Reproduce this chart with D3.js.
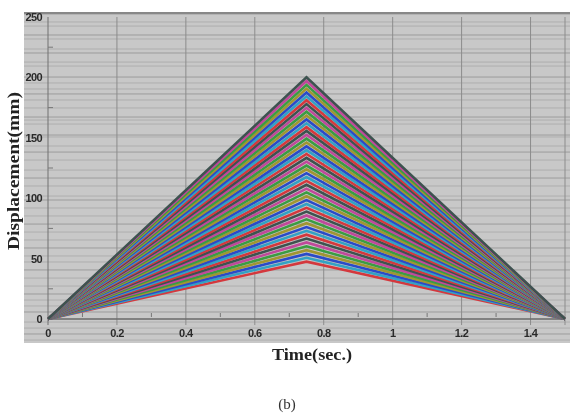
<!DOCTYPE html>
<html>
<head>
<meta charset="utf-8">
<script src="https://cdn.jsdelivr.net/npm/d3@7"></script>
<style>
  body { margin: 0; background: #fff; }
  svg { display: block; }
</style>
</head>
<body>
<div id="chart"></div>
<script>
'use strict';

// time points of every run (s)
const times = [0, 0.75, 1.5];
// peak displacement of each run (mm), lowest to highest
const peaks = [47.5, 50.7, 53.9, 57.0, 60.2, 63.4, 66.6, 69.8, 73.0, 76.1,
  79.3, 82.5, 85.7, 88.9, 92.0, 95.2, 98.4, 101.6, 104.8, 107.9,
  111.1, 114.3, 117.5, 120.7, 123.9, 127.0, 130.2, 133.4, 136.6, 139.8,
  142.9, 146.1, 149.3, 152.5, 155.7, 158.8, 162.0, 165.2, 168.4, 171.6,
  174.8, 177.9, 181.1, 184.3, 187.5, 190.7, 193.8, 197.0, 200.0];
const xTicks = [0, 0.2, 0.4, 0.6, 0.8, 1, 1.2, 1.4];
const xTickLabels = ['0', '0.2', '0.4', '0.6', '0.8', '1', '1.2', '1.4'];
const xMinor = [0.1, 0.3, 0.5, 0.7, 0.9, 1.1, 1.3];
const yTicks = [0, 50, 100, 150, 200, 250];
const yMinor = [25, 75, 125, 175, 225];
// scan streaks across the grey panel, in mm
const streaks = [252.5, 245.9, 242.5, 235.1, 231.8, 223.5, 220.2, 212.7, 209.4, 200.3,
  195.4, 190.4, 186.3, 181.3, 174.7, 167.2, 164.7, 161.4, 152.3, 150.7,
  143.2, 138.2, 131.6, 123.3, 116.7, 110.1, 101.8, 98.5, 91.9, 85.3,
  78.6, 72.0, 65.4, 58.8, 52.2, 47.2, 40.6, 33.9, 27.3, 20.7,
  15.7, 10.8, 5.8, -2.5, -7.5, -12.4, -17.4];
const palette = ['#d4383e', '#33a2c4', '#2c4cc8', '#a09632', '#3a9c42', '#c0489a', '#3e5250'];

const width = 575, height = 418;
const margin = { top: 17, left: 48, right: 10, bottom: 99 };

const svg = d3.select('#chart').append('svg')
  .attr('width', width)
  .attr('height', height);

svg.append('defs').append('filter')
  .attr('id', 'soft')
  .append('feGaussianBlur')
  .attr('stdDeviation', 0.5);

const root = svg.append('g').attr('filter', 'url(#soft)');

const xScale = d3.scaleLinear()
  .domain([0, 1.5])
  .range([margin.left, width - margin.right]);

const yScale = d3.scaleLinear()
  .domain([0, 250])
  .range([height - margin.bottom, margin.top]);

// grey panel
root.append('rect')
  .attr('x', 24).attr('y', 12)
  .attr('width', 546).attr('height', 331)
  .attr('fill', '#c8c8c8');

root.append('g')
  .selectAll('line')
  .data(streaks)
  .join('line')
  .attr('x1', 24).attr('x2', 570)
  .attr('y1', d => yScale(d)).attr('y2', d => yScale(d))
  .attr('stroke', '#8e8e8e')
  .attr('stroke-opacity', (d, i) => i % 3 === 0 ? 0.75 : 0.45)
  .attr('stroke-width', 1);

// top border
root.append('line')
  .attr('x1', 24).attr('x2', 570)
  .attr('y1', 13).attr('y2', 13)
  .attr('stroke', '#888').attr('stroke-width', 2);

// vertical grid
root.append('g')
  .selectAll('line')
  .data(xTicks.concat([1.5]))
  .join('line')
  .attr('x1', d => xScale(d)).attr('x2', d => xScale(d))
  .attr('y1', yScale(250)).attr('y2', yScale(-5))
  .attr('stroke', d => d === 0 ? '#707070' : '#8c8c8c')
  .attr('stroke-width', 1);

// x axis line
root.append('line')
  .attr('x1', xScale(0)).attr('x2', xScale(1.5))
  .attr('y1', yScale(0)).attr('y2', yScale(0))
  .attr('stroke', '#6a6a6a').attr('stroke-width', 1.3);

// minor ticks
root.append('g')
  .selectAll('line')
  .data(xMinor)
  .join('line')
  .attr('x1', d => xScale(d)).attr('x2', d => xScale(d))
  .attr('y1', yScale(0) - 6).attr('y2', yScale(0) - 2)
  .attr('stroke', '#777');

root.append('g')
  .selectAll('line')
  .data(yMinor)
  .join('line')
  .attr('x1', xScale(0)).attr('x2', xScale(0) + 5)
  .attr('y1', d => yScale(d)).attr('y2', d => yScale(d))
  .attr('stroke', '#777');

// runs
const line = d3.line()
  .x((d, i) => xScale(times[i]))
  .y(d => yScale(d));

root.append('g')
  .selectAll('path')
  .data(peaks)
  .join('path')
  .attr('d', p => line([0, p, 0]))
  .attr('fill', 'none')
  .attr('stroke', (d, i) => palette[i % palette.length])
  .attr('stroke-width', 2.6)
  .attr('stroke-linejoin', 'miter');

// tick labels
root.append('g')
  .selectAll('text')
  .data(xTicks)
  .join('text')
  .text((d, i) => xTickLabels[i])
  .attr('x', d => xScale(d))
  .attr('y', 337)
  .attr('text-anchor', 'middle')
  .style('font-family', 'Liberation Sans, Arial, sans-serif')
  .style('font-size', '11px')
  .style('font-weight', 'bold')
  .style('letter-spacing', '-0.6px')
  .style('fill', '#2a2a2a');

root.append('g')
  .selectAll('text')
  .data(yTicks)
  .join('text')
  .text(d => d)
  .attr('x', 42)
  .attr('y', d => yScale(d) + 4)
  .attr('text-anchor', 'end')
  .style('font-family', 'Liberation Sans, Arial, sans-serif')
  .style('font-size', '11px')
  .style('font-weight', 'bold')
  .style('letter-spacing', '-0.6px')
  .style('fill', '#2a2a2a');

// axis titles
root.append('text')
  .text('Time(sec.)')
  .attr('x', 272)
  .attr('y', 360)
  .attr('textLength', 80)
  .attr('lengthAdjust', 'spacingAndGlyphs')
  .style('font-family', 'Liberation Serif, Times New Roman, serif')
  .style('font-size', '17px')
  .style('font-weight', 'bold')
  .style('fill', '#222');

root.append('text')
  .text('Displacement(mm)')
  .attr('transform', 'translate(19, 250) rotate(-90)')
  .attr('textLength', 158)
  .attr('lengthAdjust', 'spacingAndGlyphs')
  .style('font-family', 'Liberation Serif, Times New Roman, serif')
  .style('font-size', '16px')
  .style('font-weight', 'bold')
  .style('fill', '#222');

root.append('text')
  .text('(b)')
  .attr('x', 287)
  .attr('y', 409)
  .attr('text-anchor', 'middle')
  .style('font-family', 'Liberation Serif, Times New Roman, serif')
  .style('font-size', '15px')
  .style('fill', '#333');
</script>
</body>
</html>
